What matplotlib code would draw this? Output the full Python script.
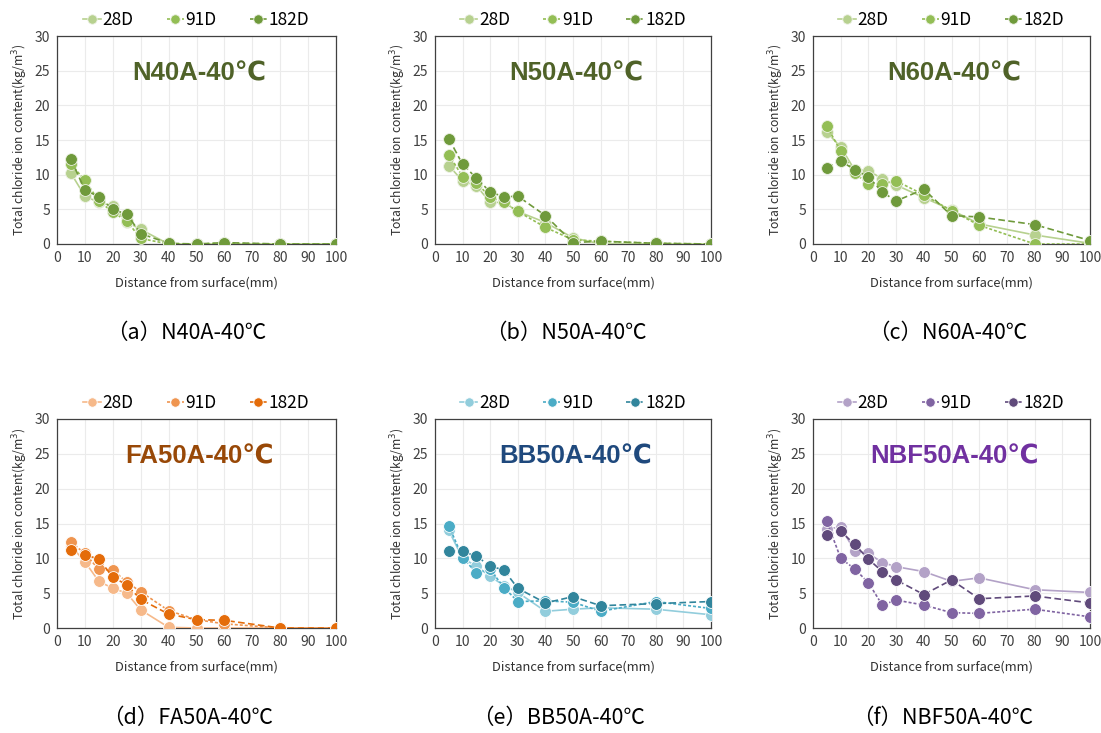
import matplotlib.pyplot as plt

plt.rcParams['font.family'] = ['Noto Sans CJK JP', 'DejaVu Sans']

# --- Daten ---
depth = [5, 10, 15, 20, 25, 30, 40, 50, 60, 80, 100]
ages = ["28D", "91D", "182D"]

n40a_28 = [10.2, 6.9, 6.0, 5.5, 3.2, 2.1, 0.0, 0.0, 0.0, 0.0, 0.0]
n40a_91 = [11.5, 9.2, 6.2, 4.6, 3.3, 0.8, 0.0, 0.0, 0.1, 0.0, 0.0]
n40a_182 = [12.2, 7.8, 6.8, 5.0, 4.3, 1.5, 0.1, 0.0, 0.2, 0.0, 0.0]

n50a_28 = [11.3, 9.1, 8.4, 6.0, 6.0, 4.7, 3.1, 0.9, 0.0, 0.0, 0.0]
n50a_91 = [12.9, 9.7, 8.8, 6.8, 6.0, 4.7, 2.4, 0.6, 0.4, 0.1, 0.0]
n50a_182 = [15.2, 11.5, 9.5, 7.5, 6.8, 6.9, 4.1, 0.2, 0.4, 0.1, 0.0]

n60a_28 = [16.1, 14.0, 10.7, 10.6, 9.4, 8.5, 6.7, 4.9, 2.9, 1.3, 0.1]
n60a_91 = [17.0, 13.4, 10.2, 8.7, 8.6, 9.1, 7.1, 4.8, 2.7, 0.0, 0.0]
n60a_182 = [11.0, 12.0, 10.7, 9.7, 7.5, 6.2, 7.9, 4.1, 3.9, 2.8, 0.5]

fa50a_28 = [11.8, 9.5, 6.7, 5.7, 5.0, 2.6, 0.1, 0.0, 0.0, 0.0, 0.0]
fa50a_91 = [12.3, 10.7, 8.4, 8.3, 6.6, 5.2, 2.5, 1.2, 0.6, 0.0, 0.0]
fa50a_182 = [11.2, 10.5, 9.9, 7.3, 6.2, 4.1, 2.0, 1.2, 1.1, 0.0, 0.0]

bb50a_28 = [14.0, 10.0, 8.9, 7.4, 6.1, 5.1, 2.4, 2.7, 2.9, 2.7, 1.9]
bb50a_91 = [14.7, 10.1, 7.9, 8.4, 5.8, 3.8, 3.9, 3.7, 2.4, 3.8, 2.8]
bb50a_182 = [11.1, 11.0, 10.3, 8.9, 8.3, 5.7, 3.6, 4.5, 3.2, 3.5, 3.8]

nbf50a_28 = [14.2, 14.5, 11.1, 10.7, 9.4, 8.8, 8.1, 6.7, 7.2, 5.5, 5.1]
nbf50a_91 = [15.3, 10.0, 8.5, 6.5, 3.3, 4.0, 3.3, 2.2, 2.1, 2.7, 1.6]
nbf50a_182 = [13.4, 13.9, 12.0, 9.9, 8.1, 6.9, 4.8, 6.9, 4.2, 4.6, 3.6]

names = ["N40A-40℃", "N50A-40℃", "N60A-40℃", "FA50A-40℃", "BB50A-40℃", "NBF50A-40℃"]
captions = ["（a）N40A-40℃", "（b）N50A-40℃", "（c）N60A-40℃",
            "（d）FA50A-40℃", "（e）BB50A-40℃", "（f）NBF50A-40℃"]
series = [
    (n40a_28, n40a_91, n40a_182),
    (n50a_28, n50a_91, n50a_182),
    (n60a_28, n60a_91, n60a_182),
    (fa50a_28, fa50a_91, fa50a_182),
    (bb50a_28, bb50a_91, bb50a_182),
    (nbf50a_28, nbf50a_91, nbf50a_182),
]

# Farben (28D, 91D, 182D) und Titelfarbe
green = ["#B7D18F", "#93BE55", "#6F9A3B"]
orange = ["#F6B98A", "#EF9550", "#E46C0A"]
blue = ["#92CDDC", "#4BACC6", "#31859C"]
purple = ["#B3A2C7", "#8064A2", "#604A7B"]
palettes = [green, green, green, orange, blue, purple]
title_colors = ["#4F6228", "#4F6228", "#4F6228", "#984807", "#1F497D", "#7030A0"]

styles = ["-", (0, (1.8, 1.2)), (0, (4, 2))]

# Achsenpositionen in Pixel (links, oben, rechts, unten)
W, H = 1101, 733
boxes = [
    (57, 36, 336, 244), (435, 36, 711, 244), (813, 36, 1090, 244),
    (57, 419, 336, 628), (435, 419, 711, 628), (813, 419, 1090, 628),
]
caption_pos = [(186, 333), (566, 333), (948, 333), (188, 718), (559, 718), (943, 718)]

fig = plt.figure(figsize=(W / 100, H / 100), dpi=100)

for i in range(6):
    l, t, r, b = boxes[i]
    ax = fig.add_axes([l / W, (H - b) / H, (r - l) / W, (b - t) / H])
    cols = palettes[i]
    for k in range(3):
        ax.plot(depth, series[i][k], linestyle=styles[k], color=cols[k], lw=1.2,
                marker="o", markersize=8.5, markerfacecolor=cols[k],
                markeredgecolor="#EEF2E6" if i < 3 else "white", markeredgewidth=0.6,
                label=ages[k], zorder=3 + k)
    ax.set_xlim(0, 100)
    ax.set_ylim(0, 30)
    ax.set_xticks(range(0, 101, 10))
    ax.set_yticks(range(0, 31, 5))
    ax.grid(True, color="#EBEBEB", lw=0.8)
    ax.set_axisbelow(True)
    ax.tick_params(length=0, labelsize=10, labelcolor="#404040", pad=5)
    for sp in ax.spines.values():
        sp.set_color("#404040")
        sp.set_linewidth(0.9)
    ax.set_xlabel("Distance from surface(mm)", fontsize=9.3, color="#303030", labelpad=8)
    ax.set_ylabel("Total chloride ion content(kg/m$^{3}$)", fontsize=8.8,
                  color="#303030", labelpad=3)
    ax.text(0.51, 0.82, names[i], transform=ax.transAxes, ha="center", va="center",
            fontsize=18.5, fontweight="bold", color=title_colors[i],
            family=["Liberation Sans", "DejaVu Sans"])
    ax.legend(loc="lower center", bbox_to_anchor=(0.5, 1.0), ncol=3, frameon=False,
              fontsize=12.5, handlelength=1.0, handletextpad=0.1, columnspacing=1.9,
              borderaxespad=0.0, markerscale=0.8)
    cx, cy = caption_pos[i]
    fig.text(cx / W, 1 - cy / H, captions[i], ha="center", va="center",
             fontsize=15.5, color="black")

fig.savefig("out.png", dpi=100)
